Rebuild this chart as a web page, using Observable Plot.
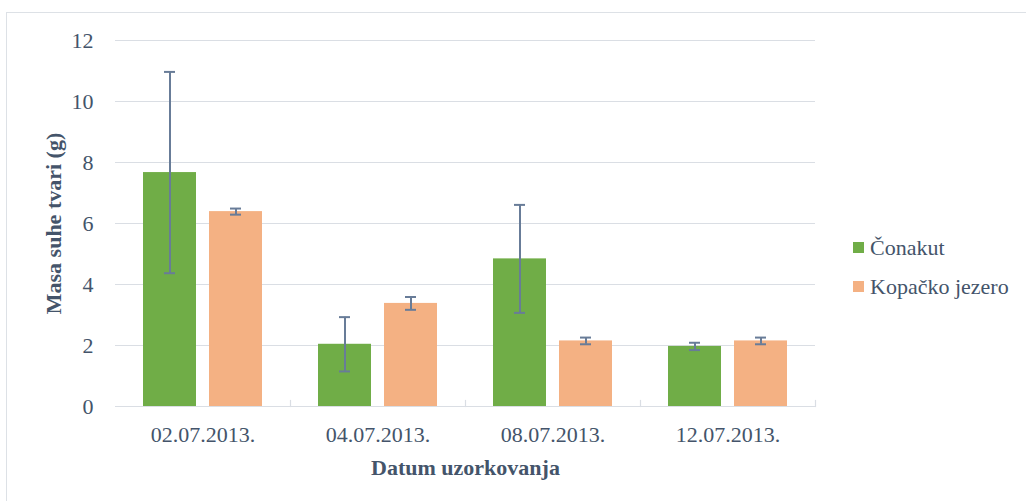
<!DOCTYPE html>
<html>
<head>
<meta charset="utf-8">
<script src="https://cdn.jsdelivr.net/npm/d3@7"></script>
<script src="https://cdn.jsdelivr.net/npm/@observablehq/plot@0.6"></script>
<style>
  html, body { margin: 0; padding: 0; background: #fff; width: 1026px; height: 501px; overflow: hidden; }
  #border { position: absolute; left: 6px; top: 12px; width: 1040px; height: 520px; border-left: 1px solid #dde1e6; border-top: 1px solid #dde1e6; }
  #chart { position: absolute; left: 0; top: 0; }
  #legend { position: absolute; left: 853px; top: 228px; font-family: "Times New Roman", "Liberation Serif", Tinos, "DejaVu Serif", serif; font-size: 22px; color: #44546A; }
  .item { display: flex; align-items: center; height: 39px; }
  .sw { width: 11px; height: 11px; margin-right: 6px; }
  svg text { font-family: "Times New Roman", "Liberation Serif", Tinos, "DejaVu Serif", serif; }
</style>
</head>
<body>
<div id="border"></div>
<div id="chart"></div>
<div id="legend"></div>
<script>
const dates = ["02.07.2013.", "04.07.2013.", "08.07.2013.", "12.07.2013."];
const series = ["Čonakut", "Kopačko jezero"];
const colors = ["#70AD47", "#F4B183"];
const conakut = [7.67, 2.04, 4.84, 1.97];
const conakutErr = [3.3, 0.89, 1.77, 0.12];
const kopacko = [6.39, 3.38, 2.15, 2.15];
const kopackoErr = [0.1, 0.21, 0.11, 0.11];
const yTicks = [0, 2, 4, 6, 8, 10, 12];

const rows = [];
dates.forEach((d, i) => {
  rows.push({date: d, series: series[0], value: conakut[i], err: conakutErr[i]});
  rows.push({date: d, series: series[1], value: kopacko[i], err: kopackoErr[i]});
});

const W = 1026, H = 501, mt = 40, mb = 95;
const grid = "#dadee4";
const errColor = "#687C98";
const serifStack = '"Times New Roman", "Liberation Serif", Tinos, "DejaVu Serif", serif';

const chart = Plot.plot({
  width: W, height: H,
  marginTop: mt, marginBottom: mb, marginLeft: 114, marginRight: 211,
  style: {fontFamily: serifStack, fontSize: "22px", color: "#44546A", background: "transparent"},
  fx: {domain: dates, padding: 0},
  x: {domain: series, paddingInner: 0.194, paddingOuter: 0.405, axis: null},
  y: {domain: [0, 12]},
  color: {domain: series, range: colors},
  marks: [
    Plot.gridY({ticks: yTicks, stroke: grid, strokeOpacity: 1, strokeWidth: 1.2}),
    Plot.frame({anchor: "right", stroke: grid, strokeWidth: 1.2, insetTop: H - mt - mb - 6}),
    Plot.barY(rows, {fx: "date", x: "series", y: "value", fill: "series"}),
    Plot.ruleX(rows, {fx: "date", x: "series", y1: d => d.value - d.err, y2: d => d.value + d.err, stroke: errColor, strokeWidth: 2}),
    Plot.tickY(rows, {fx: "date", x: "series", y: d => d.value - d.err, stroke: errColor, strokeWidth: 2, insetLeft: 21, insetRight: 21}),
    Plot.tickY(rows, {fx: "date", x: "series", y: d => d.value + d.err, stroke: errColor, strokeWidth: 2, insetLeft: 21, insetRight: 21}),
    Plot.axisY({ticks: yTicks, tickSize: 0, tickPadding: 22, line: true, stroke: grid, strokeWidth: 1.2,
      label: "Masa suhe tvari (g)", labelAnchor: "center", labelArrow: "none", labelOffset: 70}),
    Plot.axisFx({anchor: "bottom", tickSize: 0, tickPadding: 20,
      label: "Datum uzorkovanja", labelAnchor: "center", labelArrow: "none", labelOffset: 68})
  ]
});

d3.select(chart).selectAll('g[aria-label$="axis label"]').attr("font-weight", "bold");
document.getElementById("chart").appendChild(chart);

const legend = d3.select("#legend");
series.forEach((s, i) => {
  const it = legend.append("div").attr("class", "item");
  it.append("div").attr("class", "sw").style("background", colors[i]);
  it.append("span").text(s);
});
</script>
</body>
</html>
